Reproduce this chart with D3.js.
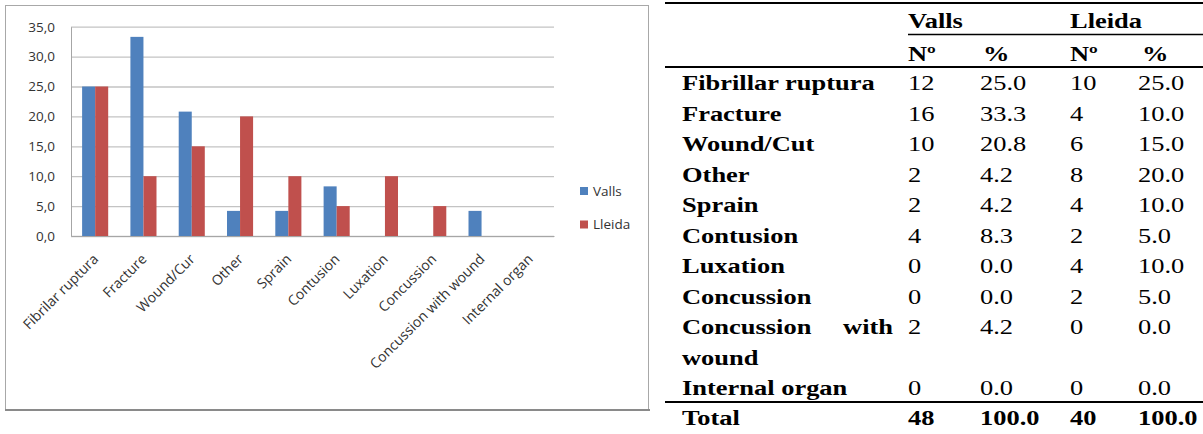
<!DOCTYPE html>
<html>
<head>
<meta charset="utf-8">
<script src="https://cdn.jsdelivr.net/npm/d3@7"></script>
<style>
  body { margin: 0; background: #fff; }
  svg { display: block; }
  .grid line { stroke: #c3c3c3; stroke-width: 1.3; }
  .chart-text { font-family: "Open Sans", sans-serif; fill: #333; }
</style>
</head>
<body>
<svg width="1203" height="434"></svg>
<script>

// DATA

let categories = ["Fibrilar ruptura", "Fracture", "Wound/Cur", "Other", "Sprain",
  "Contusion", "Luxation", "Concussion", "Concussion with wound", "Internal organ"];
let series = ["Valls", "Lleida"];
let vallsPct = [25.0, 33.3, 20.8, 4.2, 4.2, 8.3, 0.0, 0.0, 4.2, 0.0];
let lleidaPct = [25.0, 10.0, 15.0, 20.0, 10.0, 5.0, 10.0, 5.0, 0.0, 0.0];
let vallsN = [12, 16, 10, 2, 2, 4, 0, 0, 2, 0];
let lleidaN = [10, 4, 6, 8, 4, 2, 4, 2, 0, 0];
let yTicks = [0, 5, 10, 15, 20, 25, 30, 35];

// table rows (label lines as printed, second line for the wrapped one)
let tableLabels = ["Fibrillar ruptura", "Fracture", "Wound/Cut", "Other", "Sprain",
  "Contusion", "Luxation", "Concussion", "Concussion with wound", "Internal organ"];
let totals = {vallsN: 48, vallsPct: "100.0", lleidaN: 40, lleidaPct: "100.0"};

let colors = ["#4f81bd", "#c0504d"];

var svg = d3.select("svg");

// CHART FRAME

svg.append("rect")
  .attr("x", 5.5).attr("y", 5.5)
  .attr("width", 643).attr("height", 404)
  .attr("fill", "#fff")
  .attr("stroke", "#a8a8a8");
svg.append("line")
  .attr("x1", 5).attr("x2", 650)
  .attr("y1", 410).attr("y2", 410)
  .attr("stroke", "#8a8a8a").attr("stroke-width", 2);

// SCALES

let plot = {left: 71, right: 554, top: 26.7, bottom: 236};

let x = d3.scaleBand()
  .domain(categories)
  .range([plot.left, plot.right])
  .paddingInner(0.46)
  .paddingOuter(0.23);

let xInner = d3.scaleBand()
  .domain(series)
  .range([0, x.bandwidth()]);

let y = d3.scaleLinear()
  .domain([0, 35])
  .range([plot.bottom, plot.top]);

// GRIDLINES

let grid = svg.append("g")
  .attr("class", "grid")
  .attr("transform", `translate(${plot.left},0)`)
  .call(d3.axisLeft(y).tickValues(yTicks).tickSize(-(plot.right - plot.left)).tickFormat(""));
grid.select(".domain").remove();

// BARS

let rows = categories.map((c, i) => ({cat: c, values: [vallsPct[i], lleidaPct[i]]}));

let groups = svg.selectAll(".group")
  .data(rows)
  .enter()
  .append("g")
  .attr("class", "group")
  .attr("transform", d => `translate(${x(d.cat)},0)`);

groups.selectAll("rect")
  .data(d => d.values.map((v, j) => ({series: series[j], value: v, j: j})))
  .enter()
  .append("rect")
  .attr("x", d => xInner(d.series))
  .attr("width", xInner.bandwidth())
  .attr("y", d => y(d.value))
  .attr("height", d => y(0) - y(d.value))
  .attr("fill", d => colors[d.j]);

// AXES

let yAxis = svg.append("g")
  .attr("transform", `translate(${plot.left},0)`)
  .call(d3.axisLeft(y).tickValues(yTicks).tickSize(0).tickPadding(16)
    .tickFormat(d => d3.format(".1f")(d).replace(".", ",")));
yAxis.select(".domain").attr("stroke", "#a6a6a6");
yAxis.selectAll("text")
  .attr("font-family", "Open Sans, sans-serif")
  .attr("font-size", "13.5px")
  .attr("fill", "#333");

let xAxis = svg.append("g")
  .attr("transform", `translate(0,${plot.bottom})`)
  .call(d3.axisBottom(x).tickSize(0));
xAxis.select(".domain").attr("stroke", "#a6a6a6");
xAxis.selectAll("text")
  .attr("font-family", "Open Sans, sans-serif")
  .attr("font-size", "14px")
  .attr("fill", "#333")
  .attr("text-anchor", "end")
  .attr("x", 0).attr("y", 0).attr("dy", 0)
  .attr("transform", "translate(4,24) rotate(-45)");

// LEGEND

let legend = svg.selectAll(".legend")
  .data(series)
  .enter()
  .append("g")
  .attr("class", "legend")
  .attr("transform", (d, i) => `translate(580,${191 + i * 33.5})`);

legend.append("rect")
  .attr("x", 0).attr("y", -4)
  .attr("width", 8).attr("height", 8)
  .attr("fill", (d, i) => colors[i]);

legend.append("text")
  .attr("class", "chart-text")
  .attr("x", 13).attr("y", 0)
  .attr("dy", "0.35em")
  .attr("font-size", "13.5px")
  .text(d => d);

// TABLE

let stretch = 1.26;
let col = {label: 682, vN: 908, vP: 980, lN: 1070, lP: 1138, labelEnd: 893};
let tbl = svg.append("g");

function cell(xp, yp, str, bold, anchor){
  tbl.append("text")
    .attr("transform", `translate(${xp},${yp}) scale(${stretch},1)`)
    .attr("font-family", "'Liberation Serif', 'Times New Roman', Times, serif")
    .attr("font-size", "21px")
    .attr("fill", "#000")
    .attr("font-weight", bold ? "bold" : "normal")
    .attr("text-anchor", anchor || "start")
    .text(str);
}

function rule(x1, yp, w){
  tbl.append("line")
    .attr("x1", x1).attr("x2", 1203)
    .attr("y1", yp).attr("y2", yp)
    .attr("stroke", "#000").attr("stroke-width", w);
}

rule(665, 3, 2.2);
rule(col.vN, 34.5, 1.5);
rule(665, 67, 2.2);
rule(665, 402, 2.2);

cell(col.vN, 27.5, series[0], true);
cell(col.lN, 27.5, series[1], true);
cell(col.vN, 60.5, "Nº", true);
cell(col.vP + 3, 60.5, "%", true);
cell(col.lN, 60.5, "Nº", true);
cell(col.lP + 4, 60.5, "%", true);

let rowStep = 30.5;
let line = 0;
tableLabels.forEach(function(label, i){
  let yp = 90 + line * rowStep;
  if (label == "Concussion with wound"){
    cell(col.label, yp, "Concussion", true);
    cell(col.labelEnd, yp, "with", true, "end");
    cell(col.label, yp + rowStep, "wound", true);
  }
  else {
    cell(col.label, yp, label, true);
  }
  cell(col.vN, yp, vallsN[i], false);
  cell(col.vP, yp, vallsPct[i].toFixed(1), false);
  cell(col.lN, yp, lleidaN[i], false);
  cell(col.lP, yp, lleidaPct[i].toFixed(1), false);
  line += (label == "Concussion with wound") ? 2 : 1;
});

cell(col.label, 425, "Total", true);
cell(col.vN, 425, totals.vallsN, true);
cell(col.vP, 425, totals.vallsPct, true);
cell(col.lN, 425, totals.lleidaN, true);
cell(col.lP, 425, totals.lleidaPct, true);

</script>
</body>
</html>
